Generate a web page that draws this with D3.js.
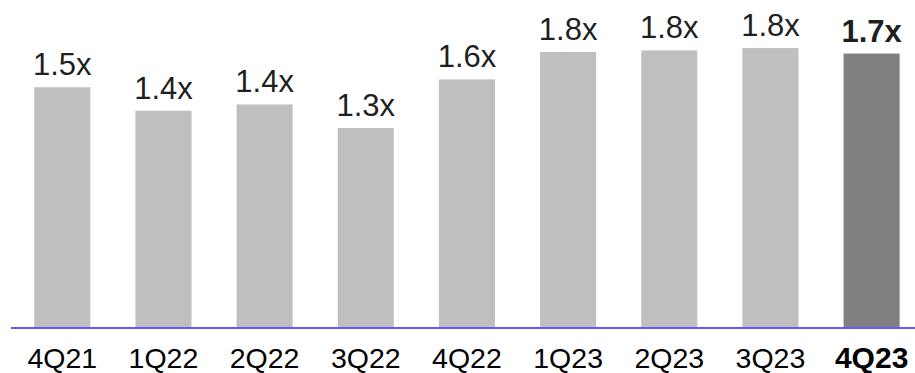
<!DOCTYPE html>
<html>
<head>
<meta charset="utf-8">
<script src="https://cdn.jsdelivr.net/npm/d3@7"></script>
<style>
  html, body { margin: 0; padding: 0; background: #fff; }
  svg { display: block; font-family: Arial, "Liberation Sans", sans-serif; }
</style>
</head>
<body>
<svg id="chart" width="915" height="373"></svg>
<script>
// Quarterly multiple (x)
const quarters = ["4Q21", "1Q22", "2Q22", "3Q22", "4Q22", "1Q23", "2Q23", "3Q23", "4Q23"];
const multiples = [1.53, 1.38, 1.42, 1.27, 1.58, 1.755, 1.765, 1.78, 1.745];
const highlight = "4Q23";

const baseY = 327;

const svg = d3.select("#chart");

const x = d3.scaleBand()
  .domain(quarters)
  .range([12, 12 + 101.1 * quarters.length])
  .paddingInner(0.446)
  .paddingOuter(0.22);

const y = d3.scaleLinear()
  .domain([0, 2])
  .range([baseY, baseY - 2 * 156.7]);

const fmt = d => d3.format(".1f")(d) + "x";

const data = quarters.map((q, i) => ({ q, v: multiples[i] }));

// bars
svg.append("g").selectAll("rect")
  .data(data)
  .join("rect")
  .attr("x", d => x(d.q))
  .attr("width", x.bandwidth())
  .attr("y", d => y(d.v))
  .attr("height", d => y(0) - y(d.v))
  .attr("fill", d => d.q === highlight ? "#7f7f7f" : "#bfbfbf");

// value labels
svg.append("g").selectAll("text")
  .data(data)
  .join("text")
  .attr("x", d => x(d.q) + x.bandwidth() / 2)
  .attr("y", d => y(d.v) - 12)
  .attr("text-anchor", "middle")
  .attr("font-size", 31)
  .attr("font-weight", d => d.q === highlight ? "bold" : "normal")
  .attr("fill", "#1f1f1f")
  .text(d => fmt(d.v));

// baseline axis
const axis = svg.append("g")
  .attr("transform", `translate(0,${baseY + 1})`)
  .call(d3.axisBottom(x).tickSize(0).tickPadding(0));
axis.select(".domain").remove();
axis.append("line")
  .attr("x1", 11).attr("x2", 915)
  .attr("y1", 0).attr("y2", 0)
  .attr("stroke", "#5a5aff")
  .attr("stroke-width", 2);
axis.selectAll(".tick text")
  .attr("y", 39.5)
  .attr("dy", 0)
  .attr("font-family", "Arial, 'Liberation Sans', sans-serif")
  .attr("font-size", d => d === highlight ? 30 : 28.5)
  .attr("font-weight", d => d === highlight ? "bold" : "normal")
  .attr("fill", "#000");
</script>
</body>
</html>
